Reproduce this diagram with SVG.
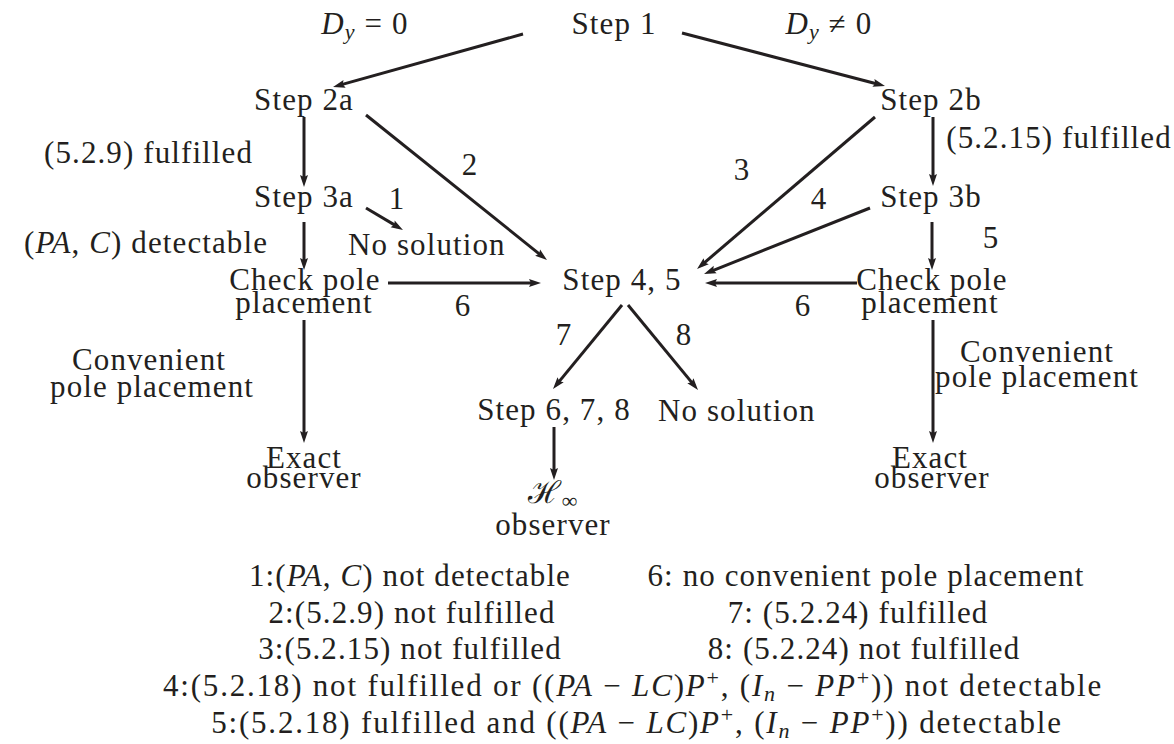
<svg xmlns="http://www.w3.org/2000/svg" width="1174" height="744" viewBox="0 0 1174 744">
<style>
.t{font-family:"Liberation Serif","DejaVu Serif",serif;font-size:31px;fill:#231f20;text-anchor:middle;letter-spacing:1.1px}
.w{letter-spacing:1.8px}
.e{text-anchor:end}
.s{text-anchor:start}
.i{font-style:italic}
.sb{font-size:22px;font-style:italic}
.sp{font-size:22px}
.c{stroke:#231f20;stroke-width:3;fill:none;marker-end:url(#ah)}
</style>
<defs>
<marker id="ah" markerUnits="userSpaceOnUse" markerWidth="16" markerHeight="10" refX="6" refY="4" orient="auto" overflow="visible">
<path d="M0,0 L12,4 L0,8 L2,4 Z" fill="#231f20"/>
</marker>
</defs>
<rect width="1174" height="744" fill="#ffffff"/>

<g id="connectors">
<line class="c" x1="523" y1="34" x2="338.8" y2="85.4"/>
<line class="c" x1="682" y1="33" x2="879.2" y2="84.5"/>
<line class="c" x1="304" y1="117" x2="304" y2="181"/>
<line class="c" x1="366" y1="115" x2="542.3" y2="256.3"/>
<line class="c" x1="933" y1="117" x2="933" y2="180"/>
<line class="c" x1="875" y1="117" x2="701.6" y2="265.1"/>
<line class="c" x1="366" y1="208" x2="397.8" y2="226.9"/>
<line class="c" x1="870" y1="208" x2="709.6" y2="271.8"/>
<line class="c" x1="304" y1="222" x2="304" y2="264"/>
<line class="c" x1="932" y1="222" x2="932" y2="264"/>
<line class="c" x1="388" y1="283" x2="535" y2="283"/>
<line class="c" x1="857" y1="283" x2="711" y2="283"/>
<line class="c" x1="622" y1="305" x2="556.8" y2="384.4"/>
<line class="c" x1="628" y1="305" x2="694.2" y2="385.4"/>
<line class="c" x1="304" y1="320" x2="304" y2="437"/>
<line class="c" x1="933" y1="320" x2="933" y2="437"/>
<line class="c" x1="554" y1="427" x2="554" y2="474"/>
</g>

<g id="edge-labels">
<text class="t" x="365" y="34"><tspan class="i">D</tspan><tspan class="sb" dy="5">y</tspan><tspan dy="-5"> = 0</tspan></text>
<text class="t" x="829" y="34"><tspan class="i">D</tspan><tspan class="sb" dy="5">y</tspan><tspan dy="-5"> ≠ 0</tspan></text>
<text class="t e" x="253" y="163">(5.2.9) fulfilled</text>
<text class="t" x="1059" y="148">(5.2.15) fulfilled</text>
<text class="t" x="470" y="175">2</text>
<text class="t" x="742" y="180">3</text>
<text class="t" x="397" y="209">1</text>
<text class="t" x="819" y="209">4</text>
<text class="t e" x="268" y="253">(<tspan class="i">PA</tspan>, <tspan class="i">C</tspan>) detectable</text>
<text class="t" x="991" y="248">5</text>
<text class="t" x="463" y="316">6</text>
<text class="t" x="803" y="316">6</text>
<text class="t" x="564" y="345">7</text>
<text class="t" x="684" y="345">8</text>
<text class="t" x="149" y="370">Convenient</text>
<text class="t" x="152" y="397">pole placement</text>
<text class="t" x="1037" y="362">Convenient</text>
<text class="t" x="1037" y="387">pole placement</text>
</g>

<g id="step1"><text class="t" x="614" y="34">Step 1</text></g>
<g id="step2a"><text class="t" x="304" y="110">Step 2a</text></g>
<g id="step2b"><text class="t" x="931" y="110">Step 2b</text></g>
<g id="step3a"><text class="t" x="304" y="207">Step 3a</text></g>
<g id="step3b"><text class="t" x="931" y="207">Step 3b</text></g>
<g id="nosolution1"><text class="t s" x="348" y="255">No solution</text></g>
<g id="checkpole-left"><text class="t" x="305" y="290">Check pole</text><text class="t" x="304" y="313">placement</text></g>
<g id="step45"><text class="t" x="622" y="290">Step 4, 5</text></g>
<g id="checkpole-right"><text class="t" x="932" y="290">Check pole</text><text class="t" x="930" y="313">placement</text></g>
<g id="step678"><text class="t" x="554" y="420">Step 6, 7, 8</text></g>
<g id="nosolution2"><text class="t s" x="658" y="421">No solution</text></g>
<g id="exact-left"><text class="t" x="304" y="468">Exact</text><text class="t" x="304" y="488">observer</text></g>
<g id="exact-right"><text class="t" x="930" y="468">Exact</text><text class="t" x="932" y="488">observer</text></g>
<g id="hinf"><text class="t" x="553" y="503">ℋ<tspan class="sp" dy="5">∞</tspan></text><text class="t" x="553" y="535">observer</text></g>

<g id="legend">
<text class="t" x="410" y="586">1:(<tspan class="i">PA</tspan>, <tspan class="i">C</tspan>) not detectable</text>
<text class="t" x="866" y="586">6: no convenient pole placement</text>
<text class="t" x="412" y="623">2:(5.2.9) not fulfilled</text>
<text class="t" x="858" y="623">7: (5.2.24) fulfilled</text>
<text class="t" x="410" y="659">3:(5.2.15) not fulfilled</text>
<text class="t" x="864" y="659">8: (5.2.24) not fulfilled</text>
<text class="t w" x="633" y="696">4:(5.2.18) not fulfilled or ((<tspan class="i">PA</tspan> − <tspan class="i">LC</tspan>)<tspan class="i">P</tspan><tspan class="sp" dy="-11">+</tspan><tspan dy="11">, (</tspan><tspan class="i">I</tspan><tspan class="sb" dy="5">n</tspan><tspan dy="-5"> − </tspan><tspan class="i">PP</tspan><tspan class="sp" dy="-11">+</tspan><tspan dy="11">)) not detectable</tspan></text>
<text class="t w" x="637" y="733">5:(5.2.18) fulfilled and ((<tspan class="i">PA</tspan> − <tspan class="i">LC</tspan>)<tspan class="i">P</tspan><tspan class="sp" dy="-11">+</tspan><tspan dy="11">, (</tspan><tspan class="i">I</tspan><tspan class="sb" dy="5">n</tspan><tspan dy="-5"> − </tspan><tspan class="i">PP</tspan><tspan class="sp" dy="-11">+</tspan><tspan dy="11">)) detectable</tspan></text>
</g>
</svg>
